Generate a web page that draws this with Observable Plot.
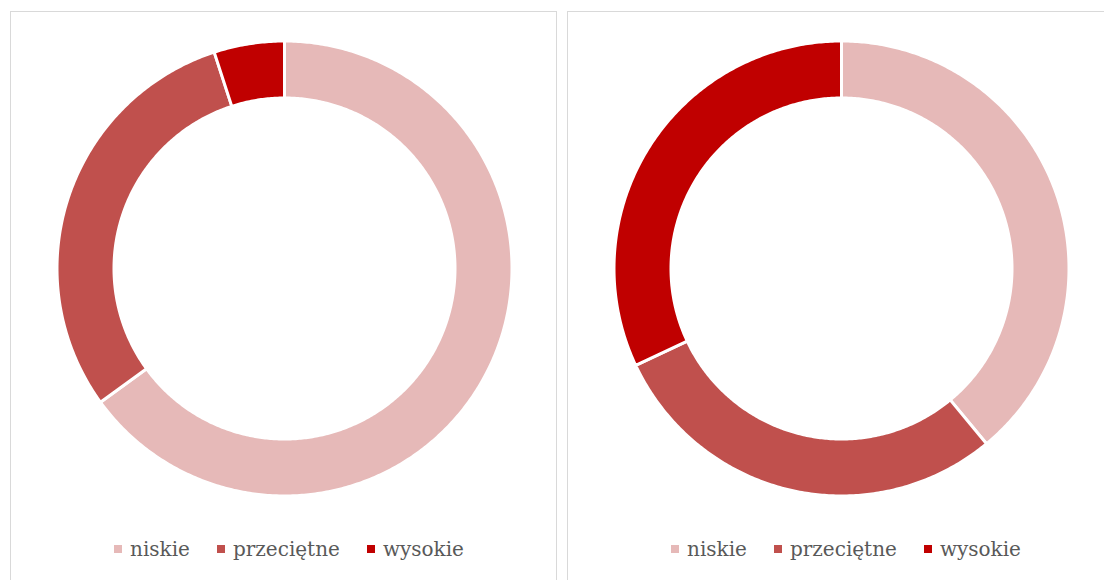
<!DOCTYPE html>
<html><head><meta charset="utf-8">
<script src="https://cdn.jsdelivr.net/npm/d3@7"></script>
<script src="https://cdn.jsdelivr.net/npm/@observablehq/plot@0.6"></script>
<style>
body{margin:0;background:#fff;}
#root{position:relative;width:1104px;height:580px;overflow:hidden;font-family:"DejaVu Serif",serif;}
.panel{position:absolute;top:11px;width:547px;height:620px;border:1.5px solid #d9d9d9;box-sizing:border-box;}
.chart{position:absolute;width:460px;height:460px;}
.legend{position:absolute;top:536px;width:600px;height:26px;display:flex;justify-content:center;align-items:center;gap:27px;font-size:20px;color:#595959;}
.item{display:flex;align-items:center;gap:8px;white-space:nowrap;}
.sw{width:8px;height:8px;display:inline-block;}
</style></head><body><div id="root"></div>
<script>
const categories = ["niskie", "przeciętne", "wysokie"];
const colors = ["#E6B9B8", "#C0504D", "#C00000"];
const valuesLeft = [65, 30, 5];
const valuesRight = [39, 29, 32];

const root = document.getElementById("root");
const OUTER = 227.5, INNER = 170.5, HALF = 230;

function ringPoints(values) {
  const pie = d3.pie().sort(null).startAngle(0).endAngle(2 * Math.PI);
  const arcs = pie(values);
  const pts = [];
  arcs.forEach((a, i) => {
    const key = categories[i];
    const n = Math.max(8, Math.ceil((a.endAngle - a.startAngle) / 0.01));
    for (let k = 0; k <= n; k++) {
      const t = a.startAngle + (a.endAngle - a.startAngle) * k / n;
      pts.push({key, x: OUTER * Math.sin(t), y: OUTER * Math.cos(t)});
    }
    for (let k = n; k >= 0; k--) {
      const t = a.startAngle + (a.endAngle - a.startAngle) * k / n;
      pts.push({key, x: INNER * Math.sin(t), y: INNER * Math.cos(t)});
    }
  });
  return pts;
}

function donut(values) {
  return Plot.plot({
    width: 2 * HALF, height: 2 * HALF,
    margin: 0,
    x: {domain: [-HALF, HALF], axis: null},
    y: {domain: [-HALF, HALF], axis: null},
    color: {domain: categories, range: colors},
    marks: [
      Plot.line(ringPoints(values), {x: "x", y: "y", z: "key", fill: "key", stroke: "white", strokeWidth: 3, curve: "linear-closed"})
    ]
  });
}

function legend() {
  const div = document.createElement("div");
  div.className = "legend";
  categories.forEach((c, i) => {
    const it = document.createElement("div");
    it.className = "item";
    const sw = document.createElement("span");
    sw.className = "sw";
    sw.style.background = colors[i];
    const tx = document.createElement("span");
    tx.textContent = c;
    it.appendChild(sw); it.appendChild(tx);
    div.appendChild(it);
  });
  return div;
}

const panels = [
  {left: 10, cx: 284, values: valuesLeft},
  {left: 567, cx: 841, values: valuesRight}
];
const cy = 268;
panels.forEach(p => {
  const panel = document.createElement("div");
  panel.className = "panel";
  panel.style.left = p.left + "px";
  root.appendChild(panel);
  const chart = donut(p.values);
  const wrap = document.createElement("div");
  wrap.className = "chart";
  wrap.style.left = (p.cx - HALF) + "px";
  wrap.style.top = (cy - HALF) + "px";
  wrap.appendChild(chart);
  root.appendChild(wrap);
  const lg = legend();
  lg.style.left = (p.cx + 5 - 300) + "px";
  root.appendChild(lg);
});
</script></body></html>
